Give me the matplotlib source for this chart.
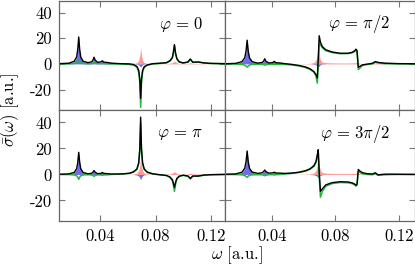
#!/usr/bin/env python

import matplotlib
matplotlib.use("Agg")
import matplotlib.pyplot as plt

# frequency grid [a.u.]
w = [0.010, 0.017, 0.021, 0.0228, 0.0236, 0.0243, 0.0250, 0.0258, 0.0275, 0.031,
     0.0338, 0.0347, 0.0354, 0.0362, 0.0380, 0.0405, 0.0414, 0.0424, 0.0451, 0.048,
     0.052, 0.057, 0.061, 0.064, 0.0665, 0.0678, 0.0686, 0.0692, 0.0698, 0.0706,
     0.0718, 0.074, 0.078, 0.083, 0.088, 0.0905, 0.0922, 0.0930, 0.0937, 0.0945,
     0.0955, 0.0972, 0.100, 0.1035, 0.1052, 0.107, 0.111, 0.115, 0.120, 0.130]

phases = [r"$\varphi \,=\, 0$", r"$\varphi \,=\, \pi/2$",
          r"$\varphi \,=\, \pi$", r"$\varphi \,=\, 3\pi/2$"]

# blue filled contribution
blue_0 = [0.1, 0.4, 1.7, 5.2, 11, 21, 11, 5.2, 1.7, 0.6,
          1.3, 2.8, 5.0, 2.6, 0.8, 1.3, 2.5, 1.2, 1.0, 0.4,
          0.1, 0, 0, 0, -0.3, -0.8, -1.6, -2.6, -1.5, -0.6,
          -0.2, 0, 0, 0, 0, 0, 0, 0, 0, 0,
          0, 0, 0, 0, 0, 0, 0, 0, 0, 0]
blue_pi2 = [0.1, 0.3, 1.5, 4.5, 9.5, 18, 9.5, 4.5, 1.5, 0.5,
            1.0, 2.0, 3.6, 1.9, 0.6, 1.0, 2.0, 0.9, 0.8, 0.3,
            0.1, 0, 0, 0, -0.3, -0.9, -1.7, -2.8, -1.6, -0.6,
            -0.2, 0, 0, 0, 0, 0, 0, 0, 0, 0,
            0, 0, 0, 0, 0, 0, 0, 0, 0, 0]
blue_pi = [0.1, 0.3, 1.4, 4.2, 9.0, 17, 9.0, 4.2, 1.4, 0.4,
           0.8, 1.7, 3.0, 1.6, 0.5, 0.8, 1.5, 0.7, 0.6, 0.2,
           0.1, 0, 0, 0, -0.5, -1.3, -2.6, -4.2, -2.4, -1.0,
           -0.3, 0, 0, 0, 0, 0, 0, 0, 0, 0,
           0, 0, 0, 0, 0, 0, 0, 0, 0, 0]
blue_3pi2 = blue_pi2

# red filled contribution
red_0 = [0, 0, 0, 0, 0, 0, 0, 0, 0, 0,
         0, 0, 0, 0, 0, 0, 0, 0, 0, 0,
         0, 0, 0.1, 0.3, 1.0, 2.8, 6.5, 12.5, 6.5, 2.8,
         1.1, 0.4, 0.2, 0.1, 0.2, 0.5, 1.0, 1.6, 2.2, 1.5,
         0.8, 0.3, 0.2, 0.4, 0.9, 0.4, 0.4, 0.2, 0.1, 0]
red_pi2 = [0, 0, 0, 0, 0, 0, 0, 0, 0, 0,
           0, 0, 0, 0, 0, 0, 0, 0, 0, 0,
           0, 0.1, 0.2, 0.4, 1.1, 3.0, 7.0, 13, 7.0, 3.0,
           1.4, 1.0, 0.8, 0.7, 0.7, 0.8, 0.9, 1.0, 1.0, 0.8,
           0.4, 0.3, 0.2, 0.3, 0.5, 0.3, 0.3, 0.2, 0.1, 0]
red_pi = red_0
red_3pi2 = red_pi2

# green curve
green_0 = [0, 0.1, 0.3, 0.8, 1.7, 3.0, 1.6, 0.8, 0.3, 0.1,
           0.2, 0.5, 1.0, 0.5, 0.2, 0.2, 0.4, 0.2, 0.1, 0,
           0, -0.2, -0.5, -1.0, -2.5, -6.5, -15, -34, -15, -6.5,
           -2.8, -1.0, -0.1, 0.3, 0.8, 2.3, 4.7, 9.0, 14.5, 8.0,
           3.8, 1.4, 0.6, 1.3, 3.6, 1.2, 1.4, 0.7, 0.3, 0.1]
green_pi2 = [0, -0.1, -0.4, -1.0, -1.8, -2.5, -1.7, -0.9, -0.4, -0.2,
             -0.3, -0.6, -1.0, -0.6, -0.3, -0.3, -0.5, -0.3, -0.3, -0.4,
             -0.8, -1.6, -2.8, -4.3, -6.5, -9.5, -15, -2, 16, 15,
             12.5, 10.3, 8.8, 8.0, 8.0, 8.6, 9.6, 10.8, 9.5, -4.5,
             -3.2, -1.2, -0.5, 0, 1.2, 0.7, 0.2, 0.1, 0, 0]
green_pi = [0, -0.1, -0.4, -1.0, -2.1, -3.8, -2.1, -1.0, -0.4, -0.2,
            -0.4, -0.8, -1.5, -0.8, -0.3, -0.4, -0.7, -0.4, -0.3, 0,
            0.2, 0.4, 0.8, 1.8, 3.8, 8.3, 18, 40, 18, 8.3,
            3.8, 1.5, 0.3, -0.3, -0.9, -2.3, -4.8, -8.5, -13, -7.5,
            -3.5, -1.5, -0.7, -1.4, -3.5, -1.4, -1.4, -0.6, -0.2, 0]
green_3pi2 = [0, -0.1, -0.3, -0.8, -1.5, -2.2, -1.4, -0.7, -0.3, -0.2,
              -0.3, -0.6, -1.0, -0.6, -0.2, -0.2, -0.4, -0.2, 0, 0.4,
              0.8, 1.5, 2.5, 3.9, 6.2, 9.2, 13.5, 17, -1, -17.5,
              -13, -9, -7.0, -6.2, -6.4, -7.0, -8.0, -9.0, -8.2, 2.2,
              1.5, 0.5, 0, -0.2, 0.6, -0.7, -0.3, -0.1, 0, 0]

# black curve (total)
black_0 = [0.2, 0.5, 2.0, 5.5, 11.5, 21, 11, 5.3, 2.0, 1.0,
           1.6, 3.2, 5.2, 3.0, 1.2, 1.6, 2.4, 1.4, 1.1, 0.6,
           0.3, 0.1, 0, -0.4, -2.0, -5, -12, -27, -12, -5,
           -2.2, -0.8, 0.2, 0.5, 1.0, 2.5, 5.0, 9.5, 15, 8.5,
           4.0, 1.6, 0.8, 1.5, 3.8, 1.3, 1.5, 0.8, 0.4, 0.2]
black_pi2 = [0.1, 0.4, 1.7, 4.8, 10, 18.5, 9.8, 4.7, 1.7, 0.6,
             1.1, 2.2, 4.0, 2.0, 0.7, 1.0, 2.0, 0.9, 0.7, 0.2,
             -0.3, -1.2, -2.3, -3.8, -6, -8.5, -11, 4, 22, 17,
             13.5, 11, 9.3, 8.3, 8.3, 9.0, 10.2, 11.5, 10.5, -2.5,
             -2.0, -0.7, -0.2, 0.5, 1.8, 1.2, 0.6, 0.4, 0.2, 0.1]
black_pi = [0.1, 0.4, 1.5, 4.4, 9.2, 17, 9.2, 4.3, 1.5, 0.5,
            0.9, 1.8, 3.0, 1.7, 0.6, 0.8, 1.5, 0.8, 0.6, 0.3,
            0.3, 0.5, 0.9, 2.0, 4.2, 9, 20, 44, 20, 9,
            4.2, 1.8, 0.5, -0.2, -0.8, -2.0, -4.0, -7.0, -10, -6,
            -3, -1.3, -0.6, -1.2, -3, -1.2, -1.2, -0.5, -0.2, 0]
black_3pi2 = [0.1, 0.4, 1.7, 4.8, 9.8, 18, 9.6, 4.6, 1.8, 0.8,
              1.3, 2.2, 3.4, 2.1, 1.0, 1.2, 1.7, 1.1, 1.0, 0.8,
              1.0, 1.7, 2.8, 4.3, 6.8, 10, 15, 19, 2, -13,
              -11, -8, -6.3, -5.6, -5.8, -6.4, -7.4, -8.3, -7.5, 3.8,
              2.6, 1.3, 0.6, 0.3, 1.3, -0.3, 0.2, 0.2, 0.1, 0]

blues = [blue_0, blue_pi2, blue_pi, blue_3pi2]
reds = [red_0, red_pi2, red_pi, red_3pi2]
greens = [green_0, green_pi2, green_pi, green_3pi2]
blacks = [black_0, black_pi2, black_pi, black_3pi2]


def main():
    plt.rcParams["font.family"] = "serif"
    plt.rcParams["font.serif"] = ["cmr10"]
    plt.rcParams["mathtext.fontset"] = "cm"
    plt.rcParams["axes.unicode_minus"] = False
    plt.rcParams["font.size"] = 12

    fig = plt.figure(figsize=(4.15, 2.7), dpi=100)
    W, H = 415.0, 270.0
    xs = [(59, 224.5), (224.5, 414.5)]
    ys = [(0.5, 110), (110, 221.3)]

    for i in range(4):
        r, c = i // 2, i % 2
        x0, x1 = xs[c]
        y0, y1 = ys[r]
        ax = fig.add_axes([x0 / W, 1 - y1 / H, (x1 - x0) / W, (y1 - y0) / H])

        ax.fill_between(w, 0, reds[i], color="#ff3030", alpha=0.5, lw=0)
        ax.fill_between(w, 0, blues[i], color="#2020e0", alpha=0.65, lw=0)
        ax.plot(w, greens[i], color="#22b83a", lw=1.1)
        ax.plot(w, blacks[i], color="black", lw=1.0)

        ax.set_xlim(0.01, 0.13)
        ax.set_ylim(-36, 49.5)
        ax.set_xticks([0.04, 0.08, 0.12])
        ax.set_yticks([-20, 0, 20, 40])
        ax.tick_params(direction="in", top=True, right=True, length=4.5,
                       width=0.8, color="#777777", labelsize=12, pad=5)
        for s in ax.spines.values():
            s.set_color("#666666")
            s.set_linewidth(0.9)

        if c == 0:
            ax.set_yticklabels(["-20", "0", "20", "40"])
        else:
            ax.set_yticklabels([])
        if r == 1:
            ax.set_xticklabels(["0.04", "0.08", "0.12"])
        else:
            ax.set_xticklabels([])

        ax.text(0.87, 0.785, phases[i], transform=ax.transAxes,
                ha="right", va="center", fontsize=12)

    fig.text(237 / W, 1 - 255 / H, r"$\omega$ [a.u.]", ha="center", va="center",
             fontsize=12)
    fig.text(10 / W, 1 - 110 / H, r"$\bar{\sigma}(\omega)$ [a.u.]", ha="center",
             va="center", rotation=90, fontsize=12)

    fig.savefig("out.png", dpi=100)


if __name__ == '__main__':
    main()
